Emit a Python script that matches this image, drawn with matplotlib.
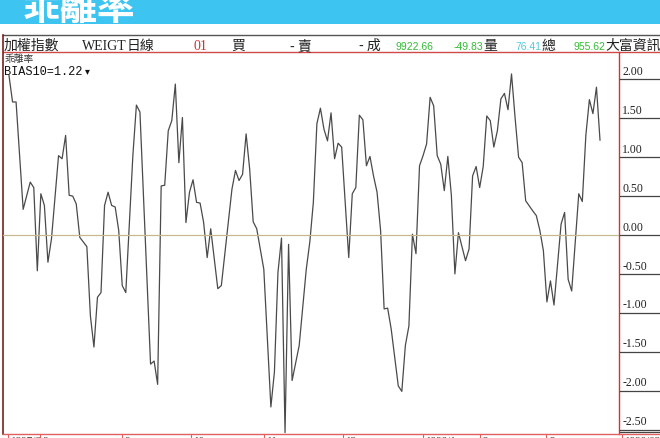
import matplotlib.pyplot as plt

# trading day index and BIAS10 value
days = [0, 1, 2, 4, 6, 7, 8, 9, 10, 11, 12, 14, 15, 16, 17, 18, 19, 20, 21, 22,
        23, 24, 25, 26, 27, 28, 29, 30, 31, 32, 33, 35, 36, 37, 40, 41, 42, 43, 44, 45,
        46, 47, 48, 49, 50, 51, 52, 53, 54, 55, 56, 57, 59, 60, 63, 64, 65, 66, 67, 68,
        69, 70, 72, 74, 75, 76, 77, 78, 79, 80, 82, 84, 85, 86, 87, 88, 89, 90, 91, 92,
        93, 94, 96, 97, 98, 99, 100, 101, 102, 103, 104, 105, 106, 107, 108, 110, 111, 112, 113, 114,
        115, 116, 117, 118, 119, 120, 121, 122, 123, 124, 125, 126, 127, 129, 130, 131, 132, 133, 134, 135,
        136, 137, 138, 139, 140, 141, 142, 143, 144, 145, 146, 148, 149, 150, 151, 152, 153, 154, 156, 157,
        158, 159, 161, 162, 163, 164, 165, 166, 167]
bias = [2.05, 1.71, 1.71, 0.33, 0.68, 0.61, -0.46, 0.53, 0.38, -0.35, -0.05, 1.02, 0.98, 1.28, 0.51, 0.50, 0.40, -0.03, -0.09, -0.15,
        -1.04, -1.44, -0.80, -0.74, 0.38, 0.55, 0.38, 0.36, 0.06, -0.65, -0.74, 1.02, 1.67, 1.58, -1.66, -1.62, -1.92, 0.63, 0.64, 1.34,
        1.47, 1.94, 0.93, 1.51, 0.16, 0.55, 0.71, 0.42, 0.41, 0.16, -0.29, 0.08, -0.69, -0.65, 0.59, 0.83, 0.70, 0.78, 1.30, 0.85,
        0.17, 0.08, -0.44, -2.21, -1.76, -0.48, -0.04, -2.54, -0.12, -1.87, -1.42, -0.44, -0.09, 0.42, 1.43, 1.63, 1.36, 1.21, 1.57, 0.98,
        1.18, 1.13, -0.29, 0.53, 0.61, 1.54, 1.48, 0.89, 1.01, 0.76, 0.55, 0.06, -0.95, -0.94, -1.21, -1.94, -2.01, -1.42, -1.17, 0.01,
        -0.24, 0.89, 1.02, 1.17, 1.77, 1.66, 1.02, 0.91, 0.57, 1.01, 0.51, -0.50, 0.03, -0.33, -0.18, 0.76, 0.88, 0.61, 0.88, 1.53,
        1.47, 1.13, 1.34, 1.75, 1.82, 1.61, 2.07, 1.51, 1.00, 0.93, 0.44, 0.31, 0.25, 0.06, -0.20, -0.86, -0.59, -0.90, 0.14, 0.29,
        -0.57, -0.72, 0.53, 0.43, 1.28, 1.74, 1.56, 1.90, 1.22]

yticks = [2.0, 1.5, 1.0, 0.5, 0.0, -0.5, -1.0, -1.5, -2.0, -2.5]
month_labels = ['1997/8', '8', '9', '10', '11', '12', '1998/1', '2', '3', '1998/03/20']
month_px = [8, 40, 122, 191, 264, 343, 423, 480, 546, 622]

W, H = 660, 439
fig = plt.figure(figsize=(W / 100, H / 100), dpi=100)
fig.patch.set_facecolor('white')

cjk = ['Noto Sans CJK TC', 'DejaVu Sans']
serif = ['Liberation Serif', 'Noto Sans CJK TC']


def fx(px):
    return px / W


def fy(py):
    return 1 - py / H


# blue banner
ban = fig.add_axes([0, fy(25), 1, 25 / H])
ban.set_axis_off()
ban.add_patch(plt.Rectangle((0, 0), 1, 1, color='#3ec4f0', transform=ban.transAxes))
fig.text(fx(23), fy(20), '乖離率', color='white', fontsize=27, fontweight='bold',
         family=cjk, va='baseline', ha='left')

# frame lines around header and chart
frame = fig.add_axes([0, 0, 1, 1], facecolor='none')
frame.set_xlim(0, W)
frame.set_ylim(H, 0)
frame.set_axis_off()
frame.plot([3, 660], [36, 36], color='#555555', lw=1)
frame.plot([3, 660], [53, 53], color='#d04a4a', lw=1)
frame.plot([3, 3], [36, 435], color='#7a1f1f', lw=1.2)
frame.plot([619, 619], [53, 435], color='#d83030', lw=1)
frame.plot([3, 660], [435, 435], color='#e06060', lw=1)
for px in month_px:
    frame.plot([px, px], [435, 439], color='#e06060', lw=0.8)

# header text
hy = fy(50)
fig.text(fx(4), hy, '加權指數', family=cjk, fontsize=10, color='#222222', va='baseline')
fig.text(fx(82), hy, 'WEIGT', family=serif, fontsize=10, color='#222222', va='baseline')
fig.text(fx(127), hy, '日線', family=cjk, fontsize=10, color='#222222', va='baseline')
fig.text(fx(193), hy, '01', family=serif, fontsize=10, color='#cc3333', va='baseline')
fig.text(fx(231), hy, '買', family=cjk, fontsize=10, color='#222222', va='baseline')
fig.text(fx(290), hy, '- 賣', family=cjk, fontsize=10, color='#222222', va='baseline')
fig.text(fx(359), hy, '- 成', family=cjk, fontsize=10, color='#222222', va='baseline')
fig.text(fx(396), hy, '9922.66', family='Liberation Sans', fontsize=7.5, color='#33bb33', va='baseline')
fig.text(fx(454), hy, '-49.83', family='Liberation Sans', fontsize=7.5, color='#33bb33', va='baseline')
fig.text(fx(483), hy, '量', family=cjk, fontsize=10, color='#222222', va='baseline')
fig.text(fx(515), hy, '76.41', family='Liberation Sans', fontsize=7.5, color='#55c8d8', va='baseline')
fig.text(fx(541), hy, '總', family=cjk, fontsize=10, color='#222222', va='baseline')
fig.text(fx(573), hy, '955.62', family='Liberation Sans', fontsize=7.5, color='#33bb33', va='baseline')
fig.text(fx(605), hy, '大富資訊', family=cjk, fontsize=10, color='#222222', va='baseline')

fig.text(fx(5), fy(62), '乖離率', family=cjk, fontsize=7, color='#333333', va='baseline')
fig.text(fx(4), fy(75), 'BIAS10=1.22', family='Liberation Mono', fontsize=8.6, color='#111111', va='baseline')
fig.text(fx(85), fy(74), '▾', family='DejaVu Sans', fontsize=7, color='#111111', va='baseline')

# main chart
x_left = -(9 - 3) / 3.539
x_right = 167 + (619 - 600) / 3.539
y_top = (236 - 53) / 77.8
y_bot = (236 - 435) / 77.8

ax = fig.add_axes([fx(3), fy(435), (619 - 3) / W, (435 - 53) / H], facecolor='none')
ax.plot(days, bias, color='#4a4a4a', lw=0.9)
ax.axhline(0, color='#c8b890', lw=0.9)
ax.set_xlim(x_left, x_right)
ax.set_ylim(y_bot, y_top)
ax.set_axis_off()

# right scale panel
rp = fig.add_axes([fx(619), fy(435), (660 - 619) / W, (435 - 53) / H], facecolor='none')
rp.set_xlim(0, 1)
rp.set_ylim(y_bot, y_top)
rp.set_axis_off()
for t in yticks:
    rp.plot([0.02, 1], [t, t], color='#444444', lw=0.9)
    rp.text(0.08, t + 0.03, f'{t:.2f}', family='Liberation Serif', fontsize=8.5,
            color='#222222', va='bottom', ha='left')
rp.plot([0.02, 1], [y_bot + 0.03, y_bot + 0.03], color='#444444', lw=0.9)

# bottom month labels, mostly cut off by the image edge
for px, lab in zip(month_px, month_labels):
    fig.text(fx(px + 3), fy(437), lab, family='Liberation Serif', fontsize=8,
             color='#333333', va='top', ha='left')

fig.savefig('out.png', dpi=100)
